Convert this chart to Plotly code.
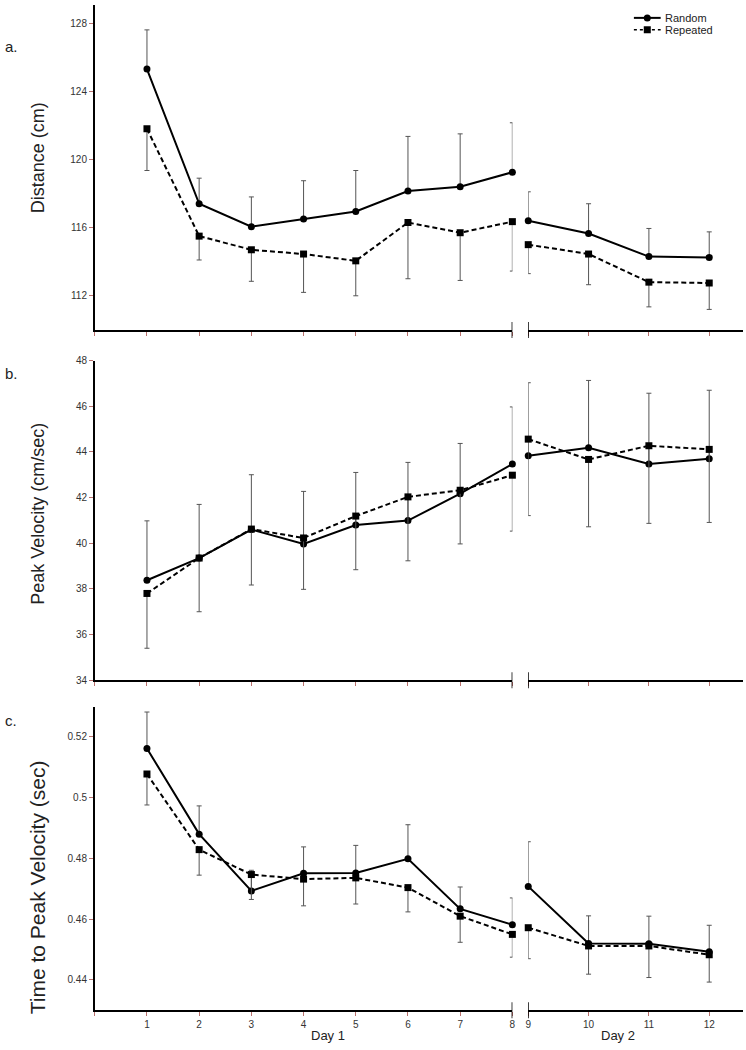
import plotly.graph_objects as go

# ---------------- data ----------------
trials = [1, 2, 3, 4, 5, 6, 7, 8, 9, 10, 11, 12]
day1_n = 8  # trials 1-8 are Day 1, 9-12 are Day 2

dist_random = [125.3, 117.4, 116.05, 116.5, 116.95, 118.15, 118.4, 119.25, 116.4, 115.65, 114.3, 114.25]
dist_random_err = [2.3, 1.5, 1.75, 2.25, 2.4, 3.2, 3.1, 2.9, 1.7, 1.75, 1.65, 1.5]
dist_repeated = [121.8, 115.5, 114.7, 114.45, 114.05, 116.3, 115.7, 116.35, 115.0, 114.45, 112.8, 112.75]
dist_repeated_err = [2.45, 1.4, 1.85, 2.25, 2.05, 3.3, 2.8, 2.9, 1.7, 1.8, 1.45, 1.55]

vel_random = [38.38, 39.35, 40.6, 39.97, 40.8, 40.99, 42.17, 43.47, 43.83, 44.18, 43.47, 43.7]
vel_random_err = [2.6, 2.35, 2.4, 2.3, 2.3, 2.55, 2.2, 2.5, 3.2, 2.95, 3.1, 3.0]
vel_repeated = [37.8, 39.35, 40.62, 40.23, 41.19, 42.03, 42.32, 42.98, 44.56, 43.67, 44.27, 44.11]
vel_repeated_err = [2.4, 2.35, 2.45, 2.25, 2.35, 2.8, 2.35, 2.45, 3.35, 2.95, 3.4, 3.2]

ttp_random = [0.5162, 0.4880, 0.4693, 0.4751, 0.4752, 0.4799, 0.4634, 0.4582, 0.4708, 0.4520, 0.4519, 0.4493]
ttp_random_err = [0.012, 0.0093, 0.0068, 0.0087, 0.0091, 0.0112, 0.0072, 0.0088, 0.0147, 0.0091, 0.0091, 0.0087]
ttp_repeated = [0.5078, 0.4829, 0.4747, 0.4732, 0.4736, 0.4704, 0.4610, 0.4550, 0.4572, 0.4512, 0.4512, 0.4483]
ttp_repeated_err = [0.0102, 0.0084, 0.0082, 0.0088, 0.0086, 0.0080, 0.0086, 0.0075, 0.0102, 0.0093, 0.0104, 0.0090]

y_titles = ["Distance (cm)", "Peak Velocity (cm/sec)", "Time to Peak Velocity (sec)"]
panel_letters = ["a.", "b.", "c."]
y_tickvals = [[112, 116, 120, 124, 128],
              [34, 36, 38, 40, 42, 44, 46, 48],
              [0.44, 0.46, 0.48, 0.50, 0.52]]
y_ticktext = [["112", "116", "120", "124", "128"],
              ["34", "36", "38", "40", "42", "44", "46", "48"],
              ["0.44", "0.46", "0.48", "0.5", "0.52"]]
y_ranges = [[110, 129.06], [34, 48], [0.43, 0.53]]
day_labels = ["Day 1", "Day 2"]
group_names = ["Random", "Repeated"]

panels = [
    (dist_random, dist_random_err, dist_repeated, dist_repeated_err),
    (vel_random, vel_random_err, vel_repeated, vel_repeated_err),
    (ttp_random, ttp_random_err, ttp_repeated, ttp_repeated_err),
]

# ---------------- layout geometry (pixels) ----------------
W, H = 746, 1050
x1_dom = [92.5 / W, 513.5 / W]
x2_dom = [529.5 / W, 1.0]
panel_px = [(0, 328), (359, 681.7), (708.3, 1015)]  # top, bottom in pixels

FONT = "Liberation Sans, Arial, sans-serif"
TICKRED = "#b9706c"
ERRCOL = "#555555"
DASH = "5px,3px"

fig = go.Figure()

for p, (r, re, q, qe) in enumerate(panels):
    xa = "x" if p == 0 else f"x{2 * p + 1}"
    xb = f"x{2 * p + 2}"
    ya = "y" if p == 0 else f"y{p + 1}"
    for g, (vals, errs) in enumerate([(r, re), (q, qe)]):
        for d, (sl, xax) in enumerate([(slice(0, day1_n), xa), (slice(day1_n, None), xb)]):
            e = errs[sl]
            zeros = [0] * len(e)
            fig.add_trace(go.Scatter(
                x=trials[sl], y=vals[sl],
                xaxis=xax, yaxis=ya,
                mode="lines+markers",
                name=group_names[g],
                showlegend=False,
                cliponaxis=False,
                line=dict(color="black", width=2, dash="solid" if g == 0 else DASH),
                marker=dict(color="black", size=7,
                            symbol="circle" if g == 0 else "square"),
                error_y=dict(type="data", symmetric=False,
                             array=e if g == 0 else zeros,
                             arrayminus=zeros if g == 0 else e,
                             color=ERRCOL, thickness=1, width=2.5),
            ))

layout = dict(
    width=W, height=H,
    margin=dict(l=0, r=0, t=0, b=0),
    paper_bgcolor="white", plot_bgcolor="white",
    font=dict(family=FONT, color="#222"),
    showlegend=False,
)

annotations = []
shapes = []
for p in range(3):
    xa_key = "xaxis" if p == 0 else f"xaxis{2 * p + 1}"
    xb_key = f"xaxis{2 * p + 2}"
    ya_key = "yaxis" if p == 0 else f"yaxis{p + 1}"
    ya_ref = "y" if p == 0 else f"y{p + 1}"
    xa_ref = "x" if p == 0 else f"x{2 * p + 1}"
    xb_ref = f"x{2 * p + 2}"
    top, bot = panel_px[p]
    ydom = [1 - bot / H, 1 - top / H]
    bottom = (p == 2)
    common_x = dict(showgrid=False, zeroline=False, showline=True, linecolor="black",
                    linewidth=1.5, ticks="outside", ticklen=4, tickwidth=1,
                    tickcolor=TICKRED, anchor=ya_ref,
                    tickfont=dict(size=10, family=FONT, color="#333"))
    layout[xa_key] = dict(common_x, domain=x1_dom, range=[0, 8],
                          tickvals=[0, 1, 2, 3, 4, 5, 6, 7, 8],
                          ticktext=(["", "1", "2", "3", "4", "5", "6", "7", "8"] if bottom else [""] * 9))
    layout[xb_key] = dict(common_x, domain=x2_dom, range=[9, 12.56],
                          tickvals=[9, 10, 11, 12],
                          ticktext=(["9", "10", "11", "12"] if bottom else [""] * 4))
    layout[ya_key] = dict(domain=ydom, range=y_ranges[p], anchor=xa_ref,
                          showgrid=False, zeroline=False, showline=True, linecolor="black",
                          linewidth=1.5, ticks="outside", ticklen=4, tickwidth=1,
                          tickcolor=TICKRED, tickvals=y_tickvals[p], ticktext=y_ticktext[p],
                          tickfont=dict(size=10, family=FONT, color="#333"))
    # axis-break marks at trial 8 and trial 9
    for xref, xv in [(xa_ref, 8), (xb_ref, 9)]:
        shapes.append(dict(type="line", xref=xref, yref=f"{ya_ref} domain",
                           ysizemode="pixel", yanchor=0, y0=-8, y1=8,
                           x0=xv, x1=xv, line=dict(color="black", width=1.5), layer="above"))
    # y-axis title
    cy = [154, 514, 891][p]
    annotations.append(dict(text=y_titles[p], xref="paper", yref="paper",
                            x=35 / W, y=1 - cy / H,
                            showarrow=False, textangle=-90, xanchor="center", yanchor="middle",
                            font=dict(size=18 if p < 2 else 21, family=FONT, color="#222")))
    # panel letter
    annotations.append(dict(text=panel_letters[p], xref="paper", yref="paper",
                            x=0, y=1 - [42, 372, 722][p] / H, showarrow=False,
                            xanchor="left", yanchor="middle",
                            font=dict(size=15, family=FONT, color="#222")))

for lbl, xc in zip(day_labels, [328, 620]):
    annotations.append(dict(text=lbl, xref="paper", yref="paper", x=xc / W, y=0,
                            showarrow=False, xanchor="center", yanchor="bottom",
                            font=dict(size=13, family=FONT, color="#222")))

# ---- legend (drawn as a key in the upper right) ----
leg_rows = [13, 25]
for g, yy in enumerate(leg_rows):
    yp = 1 - yy / H
    shapes.append(dict(type="line", xref="paper", yref="paper",
                       x0=636 / W, x1=663 / W, y0=yp, y1=yp,
                       line=dict(color="black", width=2 if g == 0 else 1.6,
                                 dash="solid" if g == 0 else "3px,3px")))
    shapes.append(dict(type="circle" if g == 0 else "rect", xref="paper", yref="paper",
                       xsizemode="pixel", ysizemode="pixel",
                       xanchor=649.5 / W, yanchor=yp,
                       x0=-3.5, x1=3.5, y0=-3.5, y1=3.5,
                       fillcolor="black", line=dict(color="black", width=0)))
    annotations.append(dict(text=group_names[g], xref="paper", yref="paper",
                            x=665 / W, y=yp, showarrow=False,
                            xanchor="left", yanchor="middle",
                            font=dict(size=11, family=FONT, color="#222")))

layout["annotations"] = annotations
layout["shapes"] = shapes
fig.update_layout(**layout)

fig.write_html("out.html", config={"displayModeBar": False},
               post_script="document.body.style.margin='0';document.body.style.padding='0';")
